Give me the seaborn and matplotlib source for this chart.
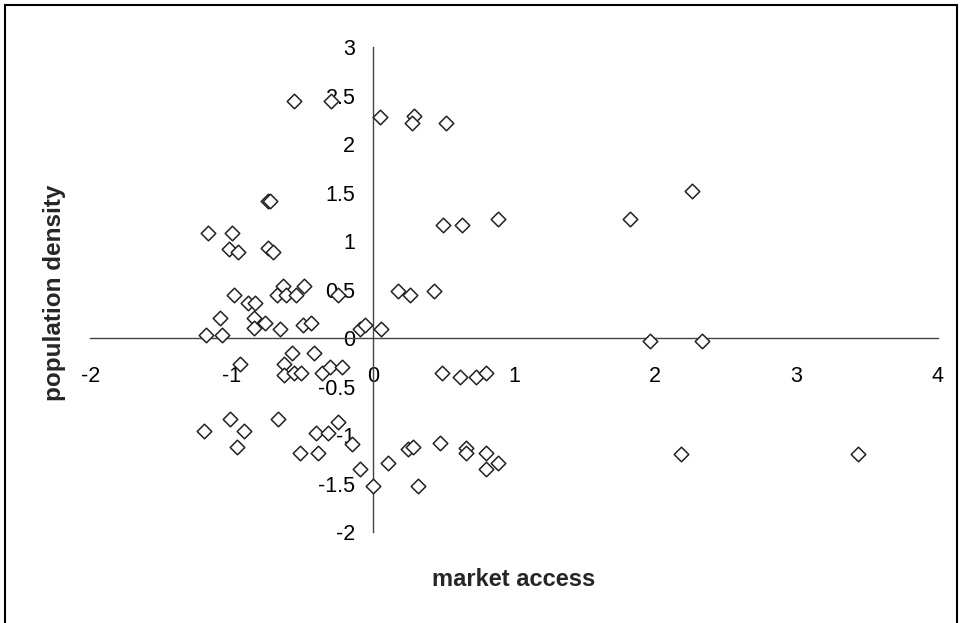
import matplotlib
matplotlib.use("Agg")
import matplotlib.pyplot as plt
import seaborn as sns
import pandas as pd
from matplotlib.patches import Rectangle

market_access = [
    -0.555, -0.297, 0.050, 0.295, 0.276, 0.519, -0.745, -0.730, -1.164, -0.999,
    -1.016, -0.952, -0.739, -0.708, 0.496, 0.635, 0.890, 1.822, 2.263, -0.982,
    -0.881, -0.834, -0.637, -0.676, -0.614, -0.543, -0.484, -0.244, 0.181, 0.264,
    0.436, -1.081, -0.841, -0.841, -0.763, -0.657, -0.496, -0.439, -1.181, -1.070,
    -0.090, -0.057, 0.060, 1.964, 2.334,
    -0.569, -0.416, -0.940, -0.626, -0.626, -0.555, -0.510, -0.357, -0.302, -0.215,
    0.493, 0.618, 0.729, 0.800, -1.011, -0.673, -1.195, -0.909, -0.963, -0.244,
    -0.402, -0.314, -0.144, -0.515, -0.390, -0.090, 0.004, 0.111, 0.248, 0.283,
    0.477, 0.659, 0.659, 0.802, 0.890, 0.802, 0.323, 2.184, 3.439,
]
population_density = [
    2.443, 2.443, 2.285, 2.292, 2.216, 2.223, 1.419, 1.419, 1.082, 1.089,
    0.921, 0.893, 0.928, 0.893, 1.168, 1.168, 1.230, 1.230, 1.519, 0.446,
    0.367, 0.367, 0.539, 0.446, 0.446, 0.446, 0.539, 0.446, 0.491, 0.446,
    0.491, 0.206, 0.206, 0.103, 0.161, 0.096, 0.137, 0.161, 0.034, 0.034,
    0.100, 0.137, 0.096, -0.028, -0.028,
    -0.155, -0.155, -0.268, -0.268, -0.378, -0.361, -0.361, -0.354, -0.292, -0.292,
    -0.361, -0.402, -0.402, -0.361, -0.832, -0.832, -0.952, -0.952, -1.124, -0.866,
    -0.980, -0.980, -1.090, -1.186, -1.186, -1.347, -1.520, -1.289, -1.141, -1.117,
    -1.082, -1.134, -1.186, -1.186, -1.289, -1.347, -1.520, -1.190, -1.190,
]
x_ticks = [-2, -1, 0, 1, 2, 3, 4]
y_ticks = [-2, -1.5, -1, -0.5, 0, 0.5, 1, 1.5, 2, 2.5, 3]
x_tick_labels = ["-2", "-1", "0", "1", "2", "3", "4"]
y_tick_labels = ["-2", "-1.5", "-1", "-0.5", "0", "0.5", "1", "1.5", "2", "2.5", "3"]

df = pd.DataFrame({"market access": market_access, "population density": population_density})

sns.set_style("white")
plt.rcParams["font.family"] = ["Liberation Sans", "DejaVu Sans"]

fig = plt.figure(figsize=(9.63, 6.23), dpi=100)
ax = fig.add_axes([90.3 / 963, 1 - 532.3 / 623, (937.5 - 90.3) / 963, (532.3 - 47.3) / 623])

sns.scatterplot(data=df, x="market access", y="population density", ax=ax,
                marker="D", s=55, facecolor="white", edgecolor="#222222",
                linewidth=1.1, zorder=3)

ax.set_xlim(-2, 4)
ax.set_ylim(-2, 3)
ax.set_xticks(x_ticks)
ax.set_xticklabels(x_tick_labels)
ax.set_yticks(y_ticks)
ax.set_yticklabels(y_tick_labels)

for s in ["top", "right"]:
    ax.spines[s].set_visible(False)
ax.spines["left"].set_position(("data", 0))
ax.spines["bottom"].set_position(("data", 0))
for s in ["left", "bottom"]:
    ax.spines[s].set_color("#444444")
    ax.spines[s].set_linewidth(1.0)
    ax.spines[s].set_zorder(1)

ax.tick_params(axis="x", direction="out", length=5, width=1, color="#444444",
               labelsize=15.5, pad=15, labelcolor="black")
ax.tick_params(axis="y", direction="out", length=6.5, width=1, color="#444444",
               labelsize=15.5, pad=6, labelcolor="black")
ax.grid(False)

ax.set_xlabel("")
ax.set_ylabel("")
fig.text(514 / 963, 1 - 580 / 623, "market access", ha="center", va="center",
         fontsize=17, fontweight="bold")
fig.text(55 / 963, 1 - 293 / 623, "population density", ha="center", va="center",
         fontsize=17.5, fontweight="bold", rotation=90)

fig.patches.append(Rectangle((5 / 963, -0.1), (957 - 5) / 963, (1 - 5 / 623) + 0.1,
                             transform=fig.transFigure, fill=False,
                             edgecolor="black", linewidth=1.5))

fig.savefig("out.png", dpi=100)
